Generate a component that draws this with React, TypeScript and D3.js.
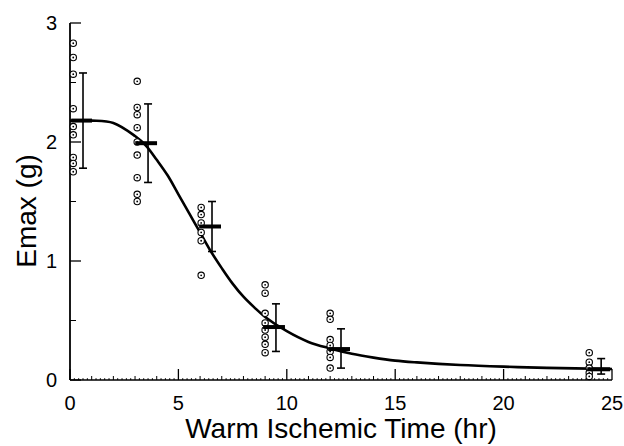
import React from "react";
import * as d3 from "d3";

// hours at which the raw points sit, and where each error bar is drawn
const groupTimes = [0.15, 3.1, 6.05, 9.0, 12.0, 23.95];
const errTimes = [0.6, 3.6, 6.55, 9.5, 12.5, 24.5];

const pointsByGroup = [
  [2.83, 2.71, 2.57, 2.28, 2.13, 2.06, 1.87, 1.82, 1.75],
  [2.51, 2.29, 2.23, 2.12, 2.0, 1.89, 1.7, 1.56, 1.5],
  [1.45, 1.39, 1.32, 1.24, 1.17, 0.88],
  [0.8, 0.73, 0.56, 0.48, 0.42, 0.36, 0.3, 0.23],
  [0.56, 0.51, 0.34, 0.29, 0.24, 0.19, 0.1],
  [0.23, 0.15, 0.1, 0.06, 0.03],
];
const means = [2.18, 1.99, 1.29, 0.445, 0.26, 0.09];
const errHigh = [2.58, 2.32, 1.5, 0.64, 0.43, 0.18];
const errLow = [1.78, 1.66, 1.08, 0.24, 0.1, 0.05];

// fitted curve
const curveT = [0, 1, 2, 3, 3.5, 4, 4.5, 5, 5.5, 6, 6.5, 7, 7.5, 8, 8.5, 9, 10, 11, 12, 13, 14, 15, 16, 18, 20, 22, 25];
const curveV = [2.18, 2.18, 2.16, 2.05, 1.97, 1.85, 1.72, 1.56, 1.4, 1.24, 1.08, 0.94, 0.81, 0.7, 0.61, 0.53, 0.41, 0.32, 0.265, 0.22, 0.188, 0.163, 0.148, 0.126, 0.112, 0.102, 0.093];

const xTicks = [0, 5, 10, 15, 20, 25];
const yTicks = [0, 1, 2, 3];

const FONT = "'Liberation Sans', Arial, Helvetica, sans-serif";

export default function App() {
  const x = d3.scaleLinear().domain([0, 25]).range([70, 612]);
  const y = d3.scaleLinear().domain([0, 3]).range([380, 23]);

  const line = d3
    .line<number>()
    .x((d, i) => x(curveT[i]))
    .y((d) => y(d))
    .curve(d3.curveCatmullRom.alpha(0.5));

  const hourTicks = d3.range(0, 26, 1).filter((t) => t % 5 !== 0);
  const tinyTicks = d3.range(0, 25.01, 0.2).filter((t) => Math.abs(t - Math.round(t)) > 0.05);
  const halfTicks = [0.5, 1.5, 2.5];

  return (
    <svg
      width={624}
      height={446}
      style={{ position: "absolute", left: 0, top: 0, background: "#fff" }}
      fontFamily={FONT}
    >
      <rect width={624} height={446} fill="#fff" />

      {/* axes */}
      <line x1={x(0)} x2={x(25)} y1={y(0)} y2={y(0)} stroke="#000" strokeWidth={1.6} />
      <line x1={x(0)} x2={x(0)} y1={y(0)} y2={y(3)} stroke="#000" strokeWidth={1.8} />

      {xTicks.map((t) => (
        <g key={"xt" + t}>
          <line x1={x(t)} x2={x(t)} y1={y(0)} y2={y(0) - 11} stroke="#000" strokeWidth={1.3} />
          <text x={x(t)} y={410} textAnchor="middle" fontSize={20}>
            {t}
          </text>
        </g>
      ))}
      {hourTicks.map((t) => (
        <line key={"h" + t} x1={x(t)} x2={x(t)} y1={y(0)} y2={y(0) - 4} stroke="#000" strokeWidth={1} />
      ))}
      {tinyTicks.map((t, i) => (
        <line key={"s" + i} x1={x(t)} x2={x(t)} y1={y(0)} y2={y(0) - 1.8} stroke="#000" strokeWidth={1} />
      ))}

      {yTicks.map((v) => (
        <g key={"yt" + v}>
          <line x1={x(0)} x2={x(0) + 11} y1={y(v)} y2={y(v)} stroke="#000" strokeWidth={1.3} />
          <text x={57} y={y(v) + 7} textAnchor="end" fontSize={20}>
            {v}
          </text>
        </g>
      ))}
      {halfTicks.map((v) => (
        <line key={"yh" + v} x1={x(0)} x2={x(0) + 6} y1={y(v)} y2={y(v)} stroke="#000" strokeWidth={1} />
      ))}

      {/* fitted curve */}
      <path d={line(curveV) || ""} fill="none" stroke="#000" strokeWidth={2.6} />

      {/* raw points */}
      {pointsByGroup.map((pts, g) =>
        pts.map((v, i) => (
          <g key={g + "-" + i}>
            <circle cx={x(groupTimes[g])} cy={y(v)} r={3.2} fill="#fff" stroke="#000" strokeWidth={1.1} />
            <circle cx={x(groupTimes[g])} cy={y(v)} r={0.9} fill="#000" />
          </g>
        ))
      )}

      {/* error bars and means */}
      {means.map((m, g) => {
        const ex = x(errTimes[g]);
        return (
          <g key={"e" + g}>
            <line x1={ex} x2={ex} y1={y(errHigh[g])} y2={y(errLow[g])} stroke="#000" strokeWidth={1.6} />
            <line x1={ex - 4} x2={ex + 4} y1={y(errHigh[g])} y2={y(errHigh[g])} stroke="#000" strokeWidth={1.6} />
            <line x1={ex - 4} x2={ex + 4} y1={y(errLow[g])} y2={y(errLow[g])} stroke="#000" strokeWidth={1.6} />
            <line
              x1={x(groupTimes[g]) - 2}
              x2={ex + 9}
              y1={y(m)}
              y2={y(m)}
              stroke="#000"
              strokeWidth={4}
            />
          </g>
        );
      })}

      {/* axis titles */}
      <text x={341} y={438} textAnchor="middle" fontSize={28}>
        Warm Ischemic Time (hr)
      </text>
      <text transform="translate(36,211) rotate(-90)" textAnchor="middle" fontSize={28}>
        Emax (g)
      </text>
    </svg>
  );
}
